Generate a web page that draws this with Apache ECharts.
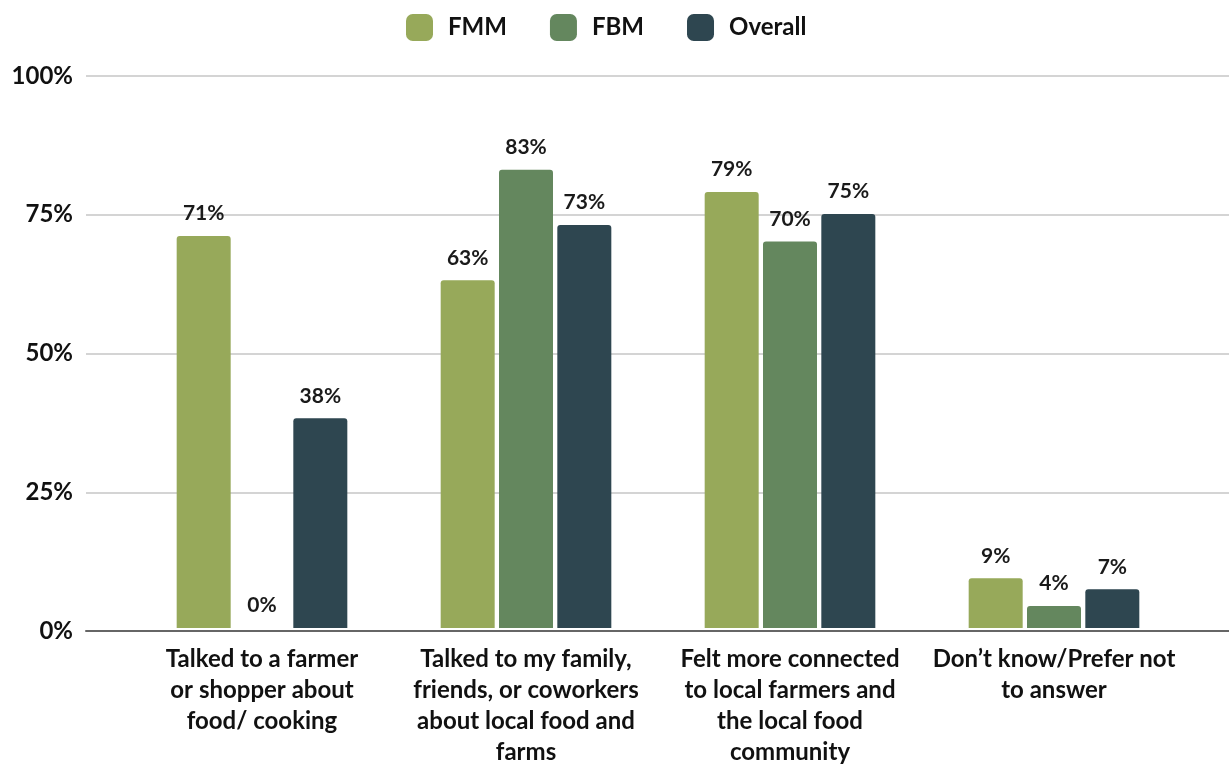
<!DOCTYPE html>
<html><head><meta charset="utf-8">
<script src="https://cdn.jsdelivr.net/npm/echarts@6/dist/echarts.min.js"></script>
<style>html,body{margin:0;padding:0;background:#fff}#c{width:1229px;height:768px}</style>
</head><body><div id="c"></div>
<script>
const categories = [
  "Talked to a farmer\nor shopper about\nfood/ cooking",
  "Talked to my family,\nfriends, or coworkers\nabout local food and\nfarms",
  "Felt more connected\nto local farmers and\nthe local food\ncommunity",
  "Don\u2019t know/Prefer not\nto answer"
];
const seriesNames = ["FMM", "FBM", "Overall"];
const fmm = [71, 63, 79, 9];
const fbm = [0, 83, 70, 4];
const overall = [38, 73, 75, 7];
const yTicks = [0, 25, 50, 75, 100];
const colors = ["#97a95a", "#64875e", "#2e4650"];

const font = "Lato, 'Noto Sans', sans-serif";
const values = [fmm, fbm, overall];
const chart = echarts.init(document.getElementById('c'));
chart.setOption({
  animation: false,
  textStyle: { fontFamily: font },
  legend: {
    top: 9, left: 401,
    itemWidth: 27, itemHeight: 27, itemGap: 43,
    icon: 'roundRect',
    textStyle: { fontSize: 24, fontWeight: 'bold', color: '#111', fontFamily: font, padding: [0, 0, 0, 10] },
    data: seriesNames
  },
  grid: [
    { left: 86, right: 0, top: 76, bottom: 137 },
    { left: 130, right: 43, top: 76, bottom: 137 }
  ],
  xAxis: [
    { gridIndex: 0, type: 'value', min: 0, max: 1, axisLabel: { show: false }, axisTick: { show: false }, splitLine: { show: false },
      axisLine: { show: true, lineStyle: { color: '#666', width: 2 } } },
    { gridIndex: 1, type: 'category', data: categories,
      axisLine: { show: false }, axisTick: { show: false },
      axisLabel: { interval: 0, margin: 16, fontSize: 24, fontWeight: 'bold', color: '#111', lineHeight: 31, fontFamily: font, align: 'center' } }
  ],
  yAxis: [
    { gridIndex: 0, type: 'value', min: yTicks[0], max: yTicks[yTicks.length - 1], interval: 25,
      axisLine: { show: false }, axisTick: { show: false },
      axisLabel: { margin: 13, fontSize: 24, fontWeight: 'bold', color: '#111', fontFamily: font, formatter: v => v + '%' },
      splitLine: { lineStyle: { color: '#d4d4d4', width: 2 } } },
    { gridIndex: 1, type: 'value', min: 0, max: 100, show: false, splitLine: { show: false } }
  ],
  series: seriesNames.map((n, i) => ({
    name: n, type: 'bar', xAxisIndex: 1, yAxisIndex: 1,
    data: values[i], barWidth: 54, barGap: '8%',
    itemStyle: { color: colors[i], borderRadius: [3, 3, 0, 0] },
    label: { show: true, position: 'top', distance: 12, fontSize: 21, fontWeight: 'bold', color: '#1a1a1a', fontFamily: font, formatter: p => p.value + '%' }
  }))
});
</script></body></html>
